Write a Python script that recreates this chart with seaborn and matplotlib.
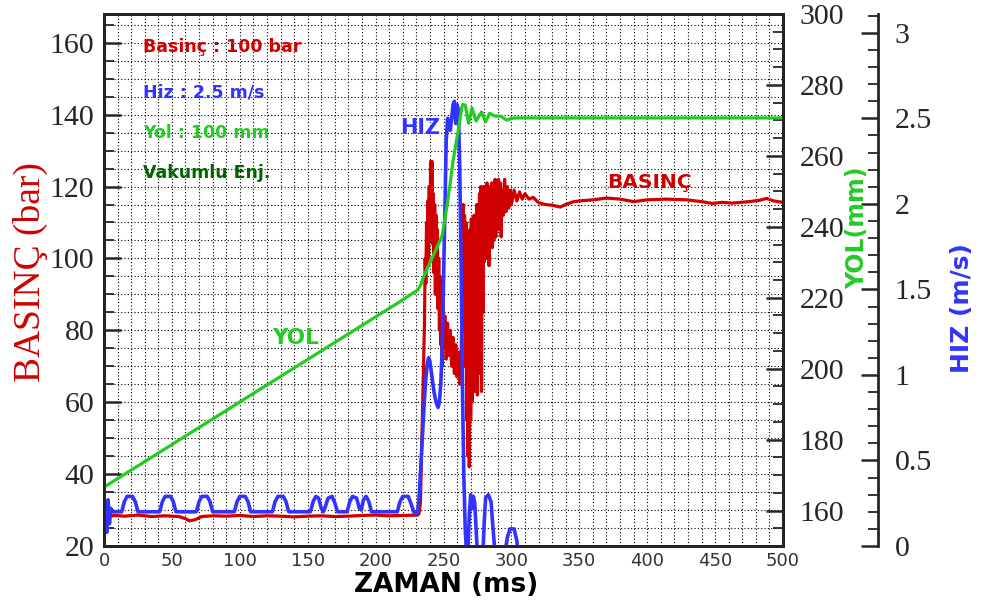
import matplotlib
matplotlib.use("Agg")
import matplotlib.pyplot as plt
import seaborn as sns
from matplotlib.ticker import MultipleLocator, FixedLocator

sns.set_style("white")
plt.rcParams['font.family'] = ['DejaVu Sans']

RED = '#d00000'
BLUE = '#3333ff'
GREEN = '#22cc22'
DKGREEN = '#006400'

# ---------------- data ----------------
basinc_t = [0, 8, 15, 25, 35, 45, 55, 60, 63, 67, 72, 80, 90, 100, 110, 120, 130, 140, 150, 160,
            170, 180, 190, 200, 210, 220, 231,
            232, 233, 234, 235, 236, 236.5, 237, 237.5, 238, 238.5, 239, 239.5, 240, 240.5, 241, 241.5,
            242, 242.5, 243, 243.5, 244, 244.5, 245, 245.5, 246, 246.5, 247, 247.5, 248, 248.5, 249, 249.5,
            250, 251, 252, 253, 254, 255, 256, 257, 258, 259, 260, 261, 262, 263,
            264, 264.5, 265, 265.5, 266, 266.5, 267, 267.5, 268, 268.5, 269, 269.5, 270, 270.5, 271, 271.5,
            272, 272.5, 273, 273.5, 274, 274.5, 275, 275.5, 276, 276.5, 277, 277.5, 278, 278.5, 279, 279.5,
            280, 281, 281.5, 282, 282.5, 283, 283.5, 284, 285, 285.5, 286, 286.5, 287, 288, 288.5, 289,
            290, 290.5, 291, 292, 292.5, 293, 294, 295, 296, 297, 298, 299, 300,
            302, 304, 306, 308, 310, 313, 316, 320, 325, 330, 336, 340, 345, 350, 360, 370, 380, 390,
            400, 414, 429, 440, 448, 455, 463, 475, 483, 488, 493, 500]
basinc_v = [28.0, 28.5, 28.3, 28.6, 28.2, 28.4, 28.2, 27.6, 27.0, 27.3, 28.2, 28.4, 28.3, 28.5, 28.2,
            28.4, 28.3, 28.1, 28.3, 28.4, 28.2, 28.3, 28.5, 28.6, 28.4, 28.5, 28.6,
            29, 32, 48, 65, 82, 100, 93, 110, 98, 116, 100, 120, 105, 127, 110, 127,
            104, 118, 96, 115, 90, 112, 92, 108, 86, 100, 80, 95, 76, 88, 70, 92,
            75, 84, 72, 82, 73, 80, 70, 78, 68, 76, 67, 74, 65, 72,
            100, 115, 80, 112, 70, 110, 55, 105, 45, 100, 42, 108, 55, 111, 60, 105,
            70, 112, 63, 108, 65, 115, 62, 110, 68, 118, 80, 120, 63, 116, 85, 120,
            99, 118, 100, 121, 102, 119, 98, 120, 104, 121, 103, 119, 105, 122, 106, 120,
            108, 122, 110, 121, 106, 119, 112, 122, 113, 120, 114, 119, 115,
            119, 116, 118.5, 116.5, 118, 116.5, 117, 115.5, 115, 114.8, 114.3, 115, 115.7, 116, 116.3,
            116.8, 116.5, 115.8, 116.3, 116.5, 116.3, 115.8, 115.3, 115.6, 115.4, 115.8, 116.2, 116.7,
            116, 115.6]

hiz_t = [0, 1, 2, 3, 4, 5, 6,
         13, 15, 17, 21, 23, 25,
         41, 43, 45, 49, 51, 53,
         68, 70, 72, 76, 78, 80,
         96, 98, 100, 104, 106, 108,
         124, 126, 128, 132, 134, 136,
         152, 154, 156, 158, 160, 161.5, 163, 165, 168, 170, 172,
         179, 181, 183, 186, 188, 189.5, 191, 193, 195, 197,
         216, 218, 220, 224, 226, 228, 230, 231,
         232, 233, 234, 235, 236, 237, 238, 239, 240, 241, 242, 243, 244, 245, 246, 247, 248, 249,
         250, 251, 252, 253, 254, 255, 256, 257, 258, 259, 260, 261, 262, 263, 264, 265, 266, 267, 268,
         269, 270, 271, 272, 273, 274, 275, 277, 279, 280, 281, 283, 285, 286, 287, 288, 290, 295,
         297, 299, 302, 304, 305, 500]
hiz_v = [0.29, 0.17, 0.08, 0.27, 0.13, 0.22, 0.20,
         0.20, 0.26, 0.29, 0.29, 0.26, 0.20,
         0.20, 0.26, 0.29, 0.29, 0.26, 0.20,
         0.20, 0.26, 0.29, 0.29, 0.26, 0.20,
         0.20, 0.26, 0.29, 0.29, 0.26, 0.20,
         0.20, 0.26, 0.29, 0.29, 0.26, 0.20,
         0.20, 0.26, 0.29, 0.28, 0.22, 0.20, 0.23, 0.28, 0.29, 0.25, 0.20,
         0.20, 0.26, 0.29, 0.28, 0.22, 0.21, 0.27, 0.29, 0.26, 0.20,
         0.20, 0.26, 0.29, 0.29, 0.25, 0.20, 0.19, 0.20,
         0.28, 0.42, 0.57, 0.72, 0.86, 0.98, 1.06, 1.10, 1.08, 1.02, 0.96, 0.90, 0.86, 0.83, 0.81,
         0.84, 0.95, 1.15,
         1.55, 1.95, 2.37, 2.50, 2.44, 2.43, 2.50, 2.58, 2.60, 2.47, 2.58, 2.55, 2.20, 1.60, 0.90,
         0.40, 0.10, -0.05, -0.03,
         0.18, 0.30, 0.22, 0.29, 0.25, 0.10, -0.05, -0.08, -0.04, 0.14, 0.28, 0.30, 0.26, 0.15,
         0.05, -0.04, -0.08, -0.06, 0.05, 0.10, 0.10, 0.03, -0.06, -0.10]

yol_t = [0, 25, 50, 75, 100, 125, 150, 175, 200, 218, 231,
         233, 236, 239, 242, 245, 249,
         251, 253, 255, 257, 259, 261, 262.5, 264,
         266, 268.5, 271, 274, 278, 281, 284, 288, 292, 296.5, 300, 304, 500]
yol_v = [166.6, 172.6, 178.6, 184.6, 190.6, 196.6, 202.6, 208.6, 214.6, 218.9, 222.2,
         223.5, 226.5, 229, 231.5, 234, 237.5,
         242, 247, 252.5, 258.5, 263, 267.5, 271.5, 274.5,
         274.3, 269.2, 273.5, 269.8, 272.4, 269.6, 272, 271.2, 271.2, 270.1, 270.6, 270.7, 270.7]

x_ticks = [0, 50, 100, 150, 200, 250, 300, 350, 400, 450, 500]
basinc_ticks = [20, 40, 60, 80, 100, 120, 140, 160]
yol_ticks = [160, 180, 200, 220, 240, 260, 280, 300]
hiz_ticks = [0, 0.5, 1, 1.5, 2, 2.5, 3]
hiz_tick_labels = ['0', '0.5', '1', '1.5', '2', '2.5', '3']

# ---------------- figure ----------------
W, H = 986, 610
fig = plt.figure(figsize=(W / 100, H / 100), dpi=100)
L, R, T, B = 104, 783, 14, 546
ax = fig.add_axes([L / W, 1 - B / H, (R - L) / W, (B - T) / H])
ax_hiz = ax.twinx()
ax_yol = ax.twinx()

sns.lineplot(x=basinc_t, y=basinc_v, ax=ax, color=RED, lw=2.3, estimator=None, sort=False)
sns.lineplot(x=hiz_t, y=hiz_v, ax=ax_hiz, color=BLUE, lw=2.6, estimator=None, sort=False)
sns.lineplot(x=yol_t, y=yol_v, ax=ax_yol, color=GREEN, lw=2.3, estimator=None, sort=False)

ax.set_xlim(0, 500)
ax.set_ylim(20, 168)
ax_yol.set_ylim(150, 300)
ax_hiz.set_ylim(0, 3.11)

serif = 'Liberation Serif'
spine_w = 2.0
TICK_FS = 21.5

# main axes
ax.xaxis.set_major_locator(FixedLocator(x_ticks))
ax.xaxis.set_minor_locator(MultipleLocator(10))
ax.yaxis.set_major_locator(FixedLocator(basinc_ticks))
ax.yaxis.set_minor_locator(MultipleLocator(5))
ax.grid(True, which='both', linestyle=(0, (1, 2)), color='black', lw=0.8)
ax.tick_params(axis='x', which='major', direction='in', length=10, width=1.8, pad=4,
               labelsize=13, labelcolor='#333333')
ax.tick_params(axis='x', which='minor', direction='in', length=7, width=1.3)
ax.tick_params(axis='y', which='major', direction='in', length=12, width=1.8, pad=7, labelsize=TICK_FS)
ax.tick_params(axis='y', which='minor', direction='in', length=7, width=1.3)
for lbl in ax.get_yticklabels():
    lbl.set_fontfamily(serif)
for sp in ax.spines.values():
    sp.set_linewidth(spine_w)
    sp.set_color('black')

# YOL axis
ax_yol.yaxis.set_major_locator(FixedLocator(yol_ticks))
ax_yol.yaxis.set_minor_locator(MultipleLocator(5))
ax_yol.tick_params(axis='y', which='major', direction='in', length=12, width=1.8, pad=12, labelsize=TICK_FS)
ax_yol.tick_params(axis='y', which='minor', direction='in', length=7, width=1.3)
for lbl in ax_yol.get_yticklabels():
    lbl.set_fontfamily(serif)
for sp in ax_yol.spines.values():
    sp.set_linewidth(spine_w)

# HIZ axis
ax_hiz.spines['right'].set_position(('axes', 1.14))
for s in ['left', 'top', 'bottom']:
    ax_hiz.spines[s].set_visible(False)
ax_hiz.spines['right'].set_linewidth(spine_w)
ax_hiz.yaxis.set_major_locator(FixedLocator(hiz_ticks))
ax_hiz.set_yticklabels(hiz_tick_labels)
ax_hiz.yaxis.set_minor_locator(MultipleLocator(0.1))
ax_hiz.tick_params(axis='y', which='major', direction='in', length=12, width=1.8, pad=12, labelsize=TICK_FS)
ax_hiz.tick_params(axis='y', which='minor', direction='in', length=7, width=1.3)
for lbl in ax_hiz.get_yticklabels():
    lbl.set_fontfamily(serif)

for a in (ax, ax_yol, ax_hiz):
    a.set_xlabel('')
    a.set_ylabel('')

# axis titles
fig.text(30 / W, 1 - 272 / H, 'BASINÇ (bar)', color=RED, family=serif, fontsize=27,
         rotation=90, ha='center', va='center')
fig.text(857 / W, 1 - 228 / H, 'YOL(mm)', color=GREEN, fontweight='bold', fontsize=17,
         rotation=90, ha='center', va='center')
fig.text(962 / W, 1 - 308 / H, 'HIZ (m/s)', color=BLUE, fontweight='bold', fontsize=18,
         rotation=90, ha='center', va='center')
fig.text(446 / W, 1 - 585 / H, 'ZAMAN (ms)', color='black', fontweight='bold', fontsize=19,
         ha='center', va='center')

# info texts
info = [('Basinç : 100 bar', RED, 0.938), ('Hiz : 2.5 m/s', BLUE, 0.853),
        ('Yol : 100 mm', GREEN, 0.776), ('Vakumlu Enj.', DKGREEN, 0.701)]
for txt, col, yf in info:
    ax.text(0.058, yf, txt, transform=ax.transAxes, color=col, fontweight='bold',
            fontsize=12.5, ha='left', va='center')

# curve labels
ax.text(232.7, 136.3, 'HIZ', color=BLUE, fontsize=15, fontweight='semibold', ha='center', va='center')
ax.text(402, 121, 'BASINÇ', color=RED, fontsize=14.5, fontweight='semibold', ha='center', va='center')
ax.text(141, 78, 'YOL', color=GREEN, fontsize=15.5, fontweight='semibold', ha='center', va='center')

fig.savefig('out.png', dpi=100)
